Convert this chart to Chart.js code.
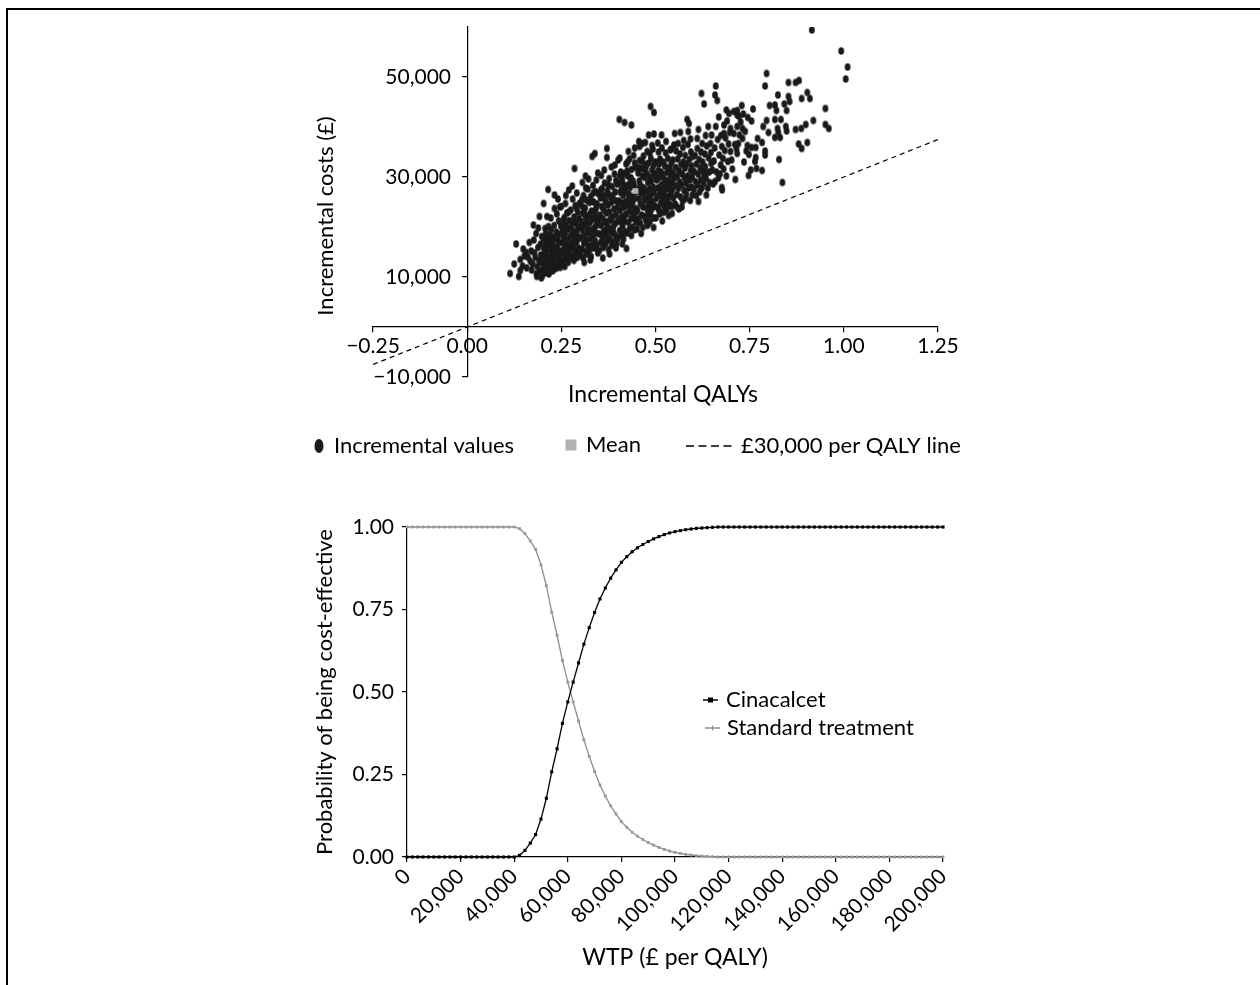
<!DOCTYPE html>
<html>
<head>
<meta charset="utf-8">
<script src="https://cdn.jsdelivr.net/npm/chart.js@4.4.1/dist/chart.umd.min.js"></script>
<style>
  html, body { margin: 0; padding: 0; background: #fff; overflow: hidden; }
  body { width: 1260px; height: 985px; position: relative; }
  .frame { position: absolute; left: 6px; top: 8px; width: 1400px; height: 1100px; border-left: 2px solid #000; border-top: 2px solid #000; }
  #icerChart { position: absolute; left: 280px; top: 15px; width: 720px; height: 470px; }
  #ceacChart { position: absolute; left: 280px; top: 490px; width: 720px; height: 495px; }
</style>
</head>
<body>
<div class="frame"></div>
<canvas id="icerChart" width="720" height="470"></canvas>
<canvas id="ceacChart" width="720" height="495"></canvas>
<script>
// ---- cost-effectiveness plane (incremental QALYs, incremental cost £)
const incrementalValues = [
  [0.114,10700],[0.137,10100],[0.141,11300],[0.141,13500],[0.152,14200],[0.130,16600],[0.125,12600],[0.147,12200],[0.149,15600],
  [0.170,15200],[0.168,13100],[0.181,13900],[0.184,10700],[0.199,10200],[0.183,18700],[0.192,22100],
  [0.158,11800],[0.162,13900],[0.165,16900],[0.171,11400],[0.174,12600],[0.177,17400],[0.179,14800],[0.186,12100],
  [0.188,15900],[0.189,19800],[0.191,13300],[0.193,11200],[0.195,16600],[0.196,14400],[0.198,12800],[0.198,18100],
  [0.157,14900],[0.185,10100],[0.197,9800],[0.176,20400],
  [0.212,22100],[0.203,24700],[0.215,27500],[0.232,26400],[0.241,25600],[0.216,20100],[0.207,19700],[0.232,23700],
  [0.201,11600],[0.202,13900],[0.203,15800],[0.204,17600],[0.205,12400],[0.206,14800],[0.207,10800],[0.208,16700],
  [0.209,18700],[0.210,13200],[0.211,11500],[0.212,15400],[0.213,17300],[0.214,12300],[0.215,14100],[0.216,16200],
  [0.217,10600],[0.218,18300],[0.219,13500],[0.220,11900],[0.221,15600],[0.222,17100],[0.223,19400],[0.224,12800],
  [0.225,14500],[0.226,16600],[0.227,11200],[0.228,18000],[0.229,13800],[0.230,15300],[0.231,20300],[0.232,12200],
  [0.233,17600],[0.234,14800],[0.235,16100],[0.236,11700],[0.237,19000],[0.238,13100],[0.239,15800],[0.240,17800],
  [0.241,12600],[0.242,14300],[0.243,21200],[0.244,16800],[0.245,13600],[0.246,18600],[0.247,11900],[0.248,15200],
  [0.249,20200],[0.222,21800],[0.238,22600],[0.246,24000],
  [0.250,24100],[0.261,24700],[0.256,21400],[0.285,31700],
  [0.251,12700],[0.252,14800],[0.253,16900],[0.254,19200],[0.255,13400],[0.256,17800],[0.257,15600],[0.258,21900],
  [0.259,12100],[0.260,18700],[0.261,14300],[0.262,16400],[0.263,20400],[0.264,13600],[0.265,22800],[0.266,15200],
  [0.267,17500],[0.268,12900],[0.269,19600],[0.270,14700],[0.271,21300],[0.272,16200],[0.273,13800],[0.274,18300],
  [0.275,23400],[0.276,15700],[0.277,20100],[0.278,14200],[0.279,17100],[0.280,25600],[0.281,16600],[0.282,19100],
  [0.283,13300],[0.284,22000],[0.285,15400],[0.286,18100],[0.287,24300],[0.288,14500],[0.289,20800],[0.290,16900],
  [0.291,26800],[0.292,13900],[0.293,19700],[0.294,22900],[0.295,15800],[0.296,17700],[0.297,21600],[0.298,14800],
  [0.299,24800],[0.270,27400],[0.279,28200],[0.262,26300],[0.291,18600],[0.258,19900],[0.284,16900],
  [0.314,30200],[0.339,34700],[0.332,34100],
  [0.301,14300],[0.302,17900],[0.303,21100],[0.304,24200],[0.305,15600],[0.306,19300],[0.307,22700],[0.308,13800],
  [0.309,26300],[0.310,16800],[0.311,20400],[0.312,18200],[0.313,23800],[0.314,15100],[0.315,21800],[0.316,25400],
  [0.317,17300],[0.318,14600],[0.319,19800],[0.320,27600],[0.321,16200],[0.322,22300],[0.323,18900],[0.324,24900],
  [0.325,15400],[0.326,20900],[0.327,17700],[0.328,26100],[0.329,14100],[0.330,23200],[0.331,19500],[0.332,16500],
  [0.333,21600],[0.334,28300],[0.335,18300],[0.336,25000],[0.337,15800],[0.338,22100],[0.339,19900],[0.340,17200],
  [0.341,27100],[0.342,23700],[0.343,20600],[0.344,16300],[0.345,24600],[0.346,18700],[0.347,14800],[0.348,21500],
  [0.349,26600],[0.306,28900],[0.322,29600],[0.343,29400],[0.311,12900],[0.327,13400],[0.347,30800],[0.318,20800],
  [0.336,19000],
  [0.371,35700],[0.371,33900],
  [0.351,15300],[0.352,18600],[0.353,22400],[0.354,25800],[0.355,16900],[0.356,20300],[0.357,24100],[0.358,27700],
  [0.359,17800],[0.360,21700],[0.361,15900],[0.362,26300],[0.363,19200],[0.364,23300],[0.365,28800],[0.366,16600],
  [0.367,21100],[0.368,25000],[0.369,18400],[0.370,22800],[0.371,17100],[0.372,27200],[0.373,20100],[0.374,24400],
  [0.375,15500],[0.376,19600],[0.377,29700],[0.378,23000],[0.379,17600],[0.380,26000],[0.381,21300],[0.382,18900],
  [0.383,24900],[0.384,16300],[0.385,28100],[0.386,22000],[0.387,19900],[0.388,25600],[0.389,17000],[0.390,23600],
  [0.391,30600],[0.392,20600],[0.393,27000],[0.394,18200],[0.395,22500],[0.396,25200],[0.397,16700],[0.398,28600],
  [0.399,21100],[0.356,30300],[0.364,31400],[0.383,32000],[0.392,32400],[0.360,13800],[0.378,14600],[0.395,15800],
  [0.368,20900],[0.386,19600],[0.374,26600],
  [0.401,33400],[0.404,41500],[0.418,40900],[0.436,40400],[0.423,15700],[0.416,18700],[0.447,21400],
  [0.401,17800],[0.402,21400],[0.403,25200],[0.404,28800],[0.405,19300],[0.406,23300],[0.407,26900],[0.408,31000],
  [0.409,18500],[0.410,22000],[0.411,24800],[0.412,29600],[0.413,20200],[0.414,26300],[0.415,17600],[0.416,23900],
  [0.417,30700],[0.418,21200],[0.419,27600],[0.420,19100],[0.421,25100],[0.422,32600],[0.423,22600],[0.424,28200],
  [0.425,18800],[0.426,24300],[0.427,30200],[0.428,20900],[0.429,26600],[0.430,23100],[0.431,33600],[0.432,19700],
  [0.433,27900],[0.434,25300],[0.435,21700],[0.436,31500],[0.437,24100],[0.438,29000],[0.439,20000],[0.440,26100],
  [0.441,22800],[0.442,34300],[0.443,28400],[0.444,19400],[0.445,25700],[0.446,31900],[0.447,23700],[0.448,27200],
  [0.449,21000],[0.405,33800],[0.428,35100],[0.445,35800],[0.412,16600],[0.436,18300],[0.418,22300],[0.431,28700],
  [0.439,24900],[0.409,27500],[0.426,33000],[0.443,22600],
  [0.487,44100],[0.496,42900],[0.456,37100],[0.465,36700],[0.482,38400],[0.496,38600],[0.485,21100],[0.482,22400],
  [0.451,19600],[0.452,23400],[0.453,27100],[0.454,30800],[0.455,21700],[0.456,25700],[0.457,29200],[0.458,33300],
  [0.459,20800],[0.460,24600],[0.461,28300],[0.462,31700],[0.463,22400],[0.464,26800],[0.465,30200],[0.466,19900],
  [0.467,24000],[0.468,34200],[0.469,27800],[0.470,22100],[0.471,29900],[0.472,25300],[0.473,32500],[0.474,21300],
  [0.475,27100],[0.476,23800],[0.477,30700],[0.478,35100],[0.479,25900],[0.480,28900],[0.481,20600],[0.482,32800],
  [0.483,24400],[0.484,27700],[0.485,30000],[0.486,22700],[0.487,26400],[0.488,33700],[0.489,29200],[0.490,23600],
  [0.491,31400],[0.492,25100],[0.493,35600],[0.494,28000],[0.495,21800],[0.496,26900],[0.497,30600],[0.498,24200],
  [0.499,33000],[0.458,36100],[0.473,36900],[0.491,36300],[0.462,18700],[0.478,20300],[0.495,19900],[0.469,31600],
  [0.484,25600],[0.457,27900],
  [0.516,38400],[0.551,38700],[0.509,23400],[0.527,23100],[0.544,22700],
  [0.501,21800],[0.502,25700],[0.503,29400],[0.504,32900],[0.505,23900],[0.506,27800],[0.507,31300],[0.508,35000],
  [0.509,26300],[0.510,29900],[0.511,22600],[0.512,33600],[0.513,27200],[0.514,24700],[0.515,31000],[0.516,28500],
  [0.517,35800],[0.518,25500],[0.519,30300],[0.520,22900],[0.521,33000],[0.522,27400],[0.523,24200],[0.524,29500],
  [0.525,32200],[0.526,26300],[0.527,34800],[0.528,28700],[0.529,25000],[0.530,30900],[0.531,23700],[0.532,27600],
  [0.533,33700],[0.534,29300],[0.535,26000],[0.536,31800],[0.537,24600],[0.538,28100],[0.539,35400],[0.540,30400],
  [0.541,26900],[0.542,32700],[0.543,24100],[0.544,29000],[0.545,27500],[0.546,33400],[0.547,25800],[0.548,30700],
  [0.549,36400],[0.506,36800],[0.528,37100],[0.542,35600],[0.518,21200],[0.535,22300],[0.511,27900],
  [0.584,41500],[0.589,40700],[0.587,39100],[0.566,38900],[0.575,37300],[0.580,25700],[0.598,26400],[0.556,24100],
  [0.552,24600],[0.553,28300],[0.554,31900],[0.555,35200],[0.557,26500],[0.558,30100],[0.559,33600],[0.561,27700],
  [0.562,23600],[0.563,31200],[0.564,29000],[0.565,34600],[0.567,26000],[0.568,32500],[0.569,28400],[0.571,30600],
  [0.572,25100],[0.573,35900],[0.574,33000],[0.576,27300],[0.577,29800],[0.578,31800],[0.579,34300],[0.581,28800],
  [0.582,26500],[0.583,32600],[0.585,30200],[0.586,36500],[0.588,27800],[0.590,33500],[0.591,29400],[0.592,25300],
  [0.593,31300],[0.594,35000],[0.595,28000],[0.596,32200],[0.597,30000],[0.599,34100],[0.570,24000],[0.560,36700],
  [0.593,37600],
  [0.622,46700],[0.629,44600],[0.614,39500],[0.640,40100],[0.624,36700],[0.646,36700],[0.629,30400],[0.651,31400],
  [0.614,25100],[0.635,26400],
  [0.602,27600],[0.603,31100],[0.605,34300],[0.606,29100],[0.608,26300],[0.609,32600],[0.611,35700],[0.612,28400],
  [0.613,30600],[0.616,33500],[0.617,27000],[0.619,31800],[0.620,29400],[0.621,35000],[0.623,27800],[0.625,33000],
  [0.626,31200],[0.628,28700],[0.631,34600],[0.632,32100],[0.634,29700],[0.636,36200],[0.637,30900],[0.639,27800],
  [0.641,33800],[0.643,31000],[0.644,28900],[0.647,34900],[0.648,32700],[0.649,38400],[0.611,37700],[0.633,38300],
  [0.660,48200],[0.658,46400],[0.664,45300],[0.695,42700],[0.682,40400],[0.660,40100],[0.699,39700],[0.682,38700],
  [0.676,36100],[0.699,35100],[0.673,32400],[0.658,29100],[0.676,27900],[0.677,27400],
  [0.653,28600],[0.655,33200],[0.657,35800],[0.662,31000],[0.665,37500],[0.667,29800],[0.669,34400],[0.671,30600],
  [0.674,38300],[0.679,33700],[0.681,31600],[0.684,35300],[0.686,37800],[0.688,30200],[0.690,41200],[0.692,33100],
  [0.694,36600],[0.697,38900],[0.668,42000],[0.688,43400],
  [0.708,43100],[0.717,42400],[0.702,33400],[0.715,35700],[0.708,38700],[0.717,43300],[0.722,42100],[0.717,40100],
  [0.731,39700],[0.723,38400],[0.731,37700],[0.717,34700],[0.720,36700],[0.745,41900],[0.744,36300],[0.748,34500],
  [0.704,31600],[0.711,36500],[0.726,41000],[0.735,33000],[0.738,39100],[0.741,35200],[0.729,44300],[0.712,29500],
  [0.733,42600],[0.747,30300],
  [0.755,41200],[0.759,43600],[0.755,35900],[0.766,35900],[0.764,33100],[0.766,33900],[0.753,31400],[0.768,31700],
  [0.783,31300],[0.771,37700],[0.783,36900],[0.791,35200],[0.791,34400],[0.786,40100],[0.800,38900],[0.795,41300],
  [0.795,50700],[0.791,48200],[0.803,44300],
  [0.817,44400],[0.821,43300],[0.848,43300],[0.842,44600],[0.825,46400],[0.853,46100],[0.856,45100],[0.853,48900],
  [0.817,41500],[0.833,41500],[0.846,40100],[0.848,39200],[0.824,39700],[0.826,38900],[0.817,37900],[0.831,37900],
  [0.828,33500],[0.837,28900],
  [0.872,48900],[0.881,49300],[0.903,46900],[0.910,45700],[0.888,45700],[0.919,41300],[0.899,40500],[0.887,39700],
  [0.872,39500],[0.880,36600],[0.888,35700],[0.903,36900],[0.915,59400],
  [0.951,43700],[0.951,40500],[0.960,39700],[0.993,55200],[1.010,52000],[1.005,49600],
  [0.305,25500],[0.315,27800],[0.325,22500],[0.335,26800],[0.345,21900],[0.355,27400],[0.365,25600],[0.375,28400],
  [0.385,26300],[0.395,29300],[0.405,30300],[0.415,28500],[0.425,31200],[0.435,29800],[0.445,32800],[0.455,31900],
  [0.465,33100],[0.475,32000],[0.485,34700],[0.495,32300],[0.260,19800],[0.270,23000],[0.280,21000],[0.290,23700],
  [0.300,20000],[0.310,22900],[0.320,19000],[0.330,25100],[0.340,23100],[0.350,20500],[0.360,23900],[0.370,19500],
  [0.380,21600],[0.390,18700],[0.400,24000],[0.410,20900],[0.420,27100],[0.430,25800],[0.440,29200],[0.450,23100],
  [0.460,27300],[0.470,25700],[0.480,23000],[0.490,27300],[0.500,30100],[0.510,32600],[0.520,26600],[0.530,28400],
  [0.540,31400],[0.550,29800]
];
const meanValue = [[0.447, 27200]];
const thresholdLine = [[-0.25, -7500], [1.25, 37500]];
const qalyTicks = [-0.25, 0, 0.25, 0.5, 0.75, 1, 1.25];
const costTicks = [-10000, 10000, 30000, 50000];

// ---- acceptability curve
const wtp = [
  0,2000,4000,6000,8000,10000,12000,14000,16000,18000,20000,22000,24000,26000,28000,30000,32000,34000,36000,38000,
  40000,42000,44000,46000,48000,50000,52000,54000,56000,58000,60000,62000,64000,66000,68000,70000,72000,74000,76000,78000,
  80000,82000,84000,86000,88000,90000,92000,94000,96000,98000,100000,102000,104000,106000,108000,110000,112000,114000,116000,118000,
  120000,122000,124000,126000,128000,130000,132000,134000,136000,138000,140000,142000,144000,146000,148000,150000,152000,154000,156000,158000,
  160000,162000,164000,166000,168000,170000,172000,174000,176000,178000,180000,182000,184000,186000,188000,190000,192000,194000,196000,198000,
  200000
];
const cinacalcet = [
  0,0,0,0,0,0,0,0,0,0,0,0,0,0,0,0,0,0,0,0,
  0,0.005,0.02,0.042,0.068,0.115,0.178,0.258,0.328,0.405,0.47,0.53,0.588,0.645,0.695,0.741,0.782,0.815,0.845,0.87,
  0.893,0.91,0.925,0.937,0.947,0.956,0.964,0.971,0.977,0.982,0.986,0.989,0.992,0.994,0.996,0.997,0.998,0.999,1,1,
  1,1,1,1,1,1,1,1,1,1,1,1,1,1,1,1,1,1,1,1,
  1,1,1,1,1,1,1,1,1,1,1,1,1,1,1,1,1,1,1,1,
  1
];
const standardTreatment = [
  1,1,1,1,1,1,1,1,1,1,1,1,1,1,1,1,1,1,1,1,
  1,0.995,0.98,0.958,0.932,0.885,0.822,0.742,0.672,0.595,0.53,0.47,0.412,0.355,0.305,0.259,0.218,0.185,0.155,0.13,
  0.107,0.09,0.075,0.063,0.053,0.044,0.036,0.029,0.023,0.018,0.014,0.011,0.008,0.006,0.004,0.003,0.002,0.001,0,0,
  0,0,0,0,0,0,0,0,0,0,0,0,0,0,0,0,0,0,0,0,
  0,0,0,0,0,0,0,0,0,0,0,0,0,0,0,0,0,0,0,0,
  0
];
const wtpTicks = [0, 20000, 40000, 60000, 80000, 100000, 120000, 140000, 160000, 180000, 200000];
const probTicks = [0, 0.25, 0.5, 0.75, 1];

Chart.defaults.font.family = "Lato, 'Open Sans', sans-serif";
Chart.defaults.color = "#000";

const minus = (s) => s.replace("-", "\u2212");
const toXY = (pairs) => pairs.map(([x, y]) => ({ x, y }));

// slightly tall oval marker, like the original dots
const dot = document.createElement("canvas");
dot.width = 8;
dot.height = 10;
{
  const c = dot.getContext("2d");
  c.fillStyle = "#1a1a1a";
  c.beginPath();
  c.ellipse(4, 5, 2.9, 3.8, 0, 0, Math.PI * 2);
  c.fill();
}

// legend + free text drawn straight onto the chart canvas
function canvasText(items, texts) {
  return {
    id: "canvasText",
    afterDraw(chart) {
      const { ctx } = chart;
      ctx.save();
      ctx.font = "22px Lato";
      ctx.textBaseline = "middle";
      items.forEach((it) => {
        ctx.save();
        ctx.fillStyle = it.color;
        ctx.strokeStyle = it.color;
        if (it.symbol === "ellipse") {
          ctx.beginPath();
          ctx.ellipse(it.x, it.y, 4.5, 7, 0, 0, Math.PI * 2);
          ctx.fill();
        } else if (it.symbol === "square") {
          ctx.fillRect(it.x - 5.5, it.y - 5.5, 11, 11);
        } else if (it.symbol === "dash") {
          ctx.lineWidth = 1.6;
          ctx.setLineDash([8, 4.5]);
          ctx.beginPath();
          ctx.moveTo(it.x, it.y);
          ctx.lineTo(it.x + 45.5, it.y);
          ctx.stroke();
        } else {
          ctx.lineWidth = 1.5;
          ctx.beginPath();
          ctx.moveTo(it.x, it.y);
          ctx.lineTo(it.x + 15, it.y);
          ctx.stroke();
          if (it.symbol === "lineRect") {
            ctx.fillRect(it.x + 5, it.y - 2.5, 5, 5);
          } else {
            ctx.lineWidth = 1;
            ctx.beginPath();
            ctx.moveTo(it.x + 7.5, it.y - 2.5);
            ctx.lineTo(it.x + 7.5, it.y + 2.5);
            ctx.stroke();
          }
        }
        ctx.restore();
        ctx.fillStyle = "#000";
        ctx.fillText(it.text, it.tx, it.y);
      });
      (texts || []).forEach((t) => {
        ctx.save();
        ctx.font = t.size + "px Lato";
        ctx.translate(t.x, t.y);
        ctx.rotate(t.rotate || 0);
        ctx.textAlign = "center";
        ctx.fillStyle = "#000";
        ctx.fillText(t.text, 0, 0);
        ctx.restore();
      });
      ctx.restore();
    },
  };
}

const axisLine = { color: "#000", width: 1.2 };
const tickMarks = { drawOnChartArea: false, drawTicks: true, tickLength: 5, color: "#000", lineWidth: 1.2 };

// top panel: cost-effectiveness plane
new Chart(document.getElementById("icerChart"), {
  type: "scatter",
  data: {
    datasets: [
      {
        label: "Mean",
        data: toXY(meanValue),
        pointStyle: "rect",
        pointRadius: 4,
        backgroundColor: "#b2b2b2",
        borderWidth: 0,
      },
      {
        label: "Incremental values",
        data: toXY(incrementalValues),
        pointStyle: dot,
        pointRadius: 3,
        backgroundColor: "#1a1a1a",
        borderWidth: 0,
      },
      {
        label: "£30,000 per QALY line",
        type: "line",
        data: toXY(thresholdLine),
        borderColor: "#000",
        borderWidth: 1.2,
        borderDash: [5, 4],
        pointRadius: 0,
        fill: false,
      },
    ],
  },
  options: {
    responsive: false,
    animation: false,
    events: [],
    layout: { padding: { left: 93, right: 62, top: 12, bottom: 108 } },
    plugins: { legend: { display: false }, tooltip: { enabled: false } },
    scales: {
      x: {
        type: "linear",
        position: { y: 0 },
        min: -0.25,
        max: 1.25,
        afterBuildTicks: (axis) => { axis.ticks = qalyTicks.map((v) => ({ value: v })); },
        afterFit: (axis) => { axis.height = 0; axis.paddingLeft = 0; axis.paddingRight = 0; },
        grid: tickMarks,
        border: axisLine,
        ticks: {
          font: { size: 21 },
          padding: 2,
          maxRotation: 0,
          autoSkip: false,
          callback: (v) => minus(Number(v).toFixed(2)),
        },
      },
      y: {
        type: "linear",
        position: { x: 0 },
        min: -10000,
        max: 60000,
        afterBuildTicks: (axis) => { axis.ticks = costTicks.map((v) => ({ value: v })); },
        afterFit: (axis) => { axis.width = 0; axis.paddingTop = 0; axis.paddingBottom = 0; },
        grid: tickMarks,
        border: axisLine,
        ticks: {
          font: { size: 21 },
          autoSkip: false,
          // labels sit on the crossing axis, so keep them clear of it
          callback: (v) => minus(Number(v).toLocaleString("en-GB")) + "   ",
        },
      },
    },
  },
  plugins: [
    canvasText(
      [
        { symbol: "ellipse", color: "#1a1a1a", x: 39, y: 431, tx: 54, text: "Incremental values" },
        { symbol: "square", color: "#b2b2b2", x: 291, y: 430, tx: 306, text: "Mean" },
        { symbol: "dash", color: "#000", x: 406, y: 431, tx: 461, text: "£30,000 per QALY line" },
      ],
      [
        { text: "Incremental QALYs", x: 383, y: 380, size: 23 },
        { text: "Incremental costs (£)", x: 46, y: 201, size: 22, rotate: -Math.PI / 2 },
      ]
    ),
  ],
});

// bottom panel: cost-effectiveness acceptability curve
new Chart(document.getElementById("ceacChart"), {
  type: "line",
  data: {
    datasets: [
      {
        label: "Cinacalcet",
        data: wtp.map((w, i) => ({ x: w, y: cinacalcet[i] })),
        borderColor: "#000",
        borderWidth: 1.3,
        pointStyle: "rect",
        pointRadius: 2.2,
        pointBackgroundColor: "#000",
        pointBorderWidth: 0,
        clip: false,
      },
      {
        label: "Standard treatment",
        data: wtp.map((w, i) => ({ x: w, y: standardTreatment[i] })),
        borderColor: "#8c8c8c",
        borderWidth: 1.3,
        pointStyle: "rect",
        pointRadius: 2,
        pointBackgroundColor: "#999",
        pointBorderWidth: 0,
        clip: false,
      },
    ],
  },
  options: {
    responsive: false,
    animation: false,
    events: [],
    layout: { padding: { left: 0, right: 57, top: 37, bottom: 0 } },
    plugins: { legend: { display: false }, tooltip: { enabled: false } },
    scales: {
      x: {
        type: "linear",
        min: 0,
        max: 200000,
        afterBuildTicks: (axis) => { axis.ticks = wtpTicks.map((v) => ({ value: v })); },
        afterFit: (axis) => { axis.height = 128; },
        grid: tickMarks,
        border: axisLine,
        ticks: {
          font: { size: 21 },
          padding: 2,
          minRotation: 45,
          maxRotation: 45,
          autoSkip: false,
          callback: (v) => Number(v).toLocaleString("en-GB"),
        },
        title: {
          display: true,
          text: "WTP (£ per QALY)",
          font: { size: 23 },
          padding: { top: 0, bottom: 14 },
        },
      },
      y: {
        type: "linear",
        min: 0,
        max: 1,
        afterBuildTicks: (axis) => { axis.ticks = probTicks.map((v) => ({ value: v })); },
        afterFit: (axis) => { axis.width = 127; },
        grid: tickMarks,
        border: axisLine,
        ticks: {
          font: { size: 21 },
          padding: 8,
          autoSkip: false,
          callback: (v) => Number(v).toFixed(2),
        },
        title: {
          display: true,
          text: "Probability of being cost-effective",
          font: { size: 22 },
          padding: { top: 32, bottom: 0 },
        },
      },
    },
  },
  plugins: [
    canvasText([
      { symbol: "lineRect", color: "#000", x: 423, y: 210, tx: 446, text: "Cinacalcet" },
      { symbol: "lineCross", color: "#8c8c8c", x: 425, y: 238, tx: 447, text: "Standard treatment" },
    ]),
  ],
});
</script>
</body>
</html>
